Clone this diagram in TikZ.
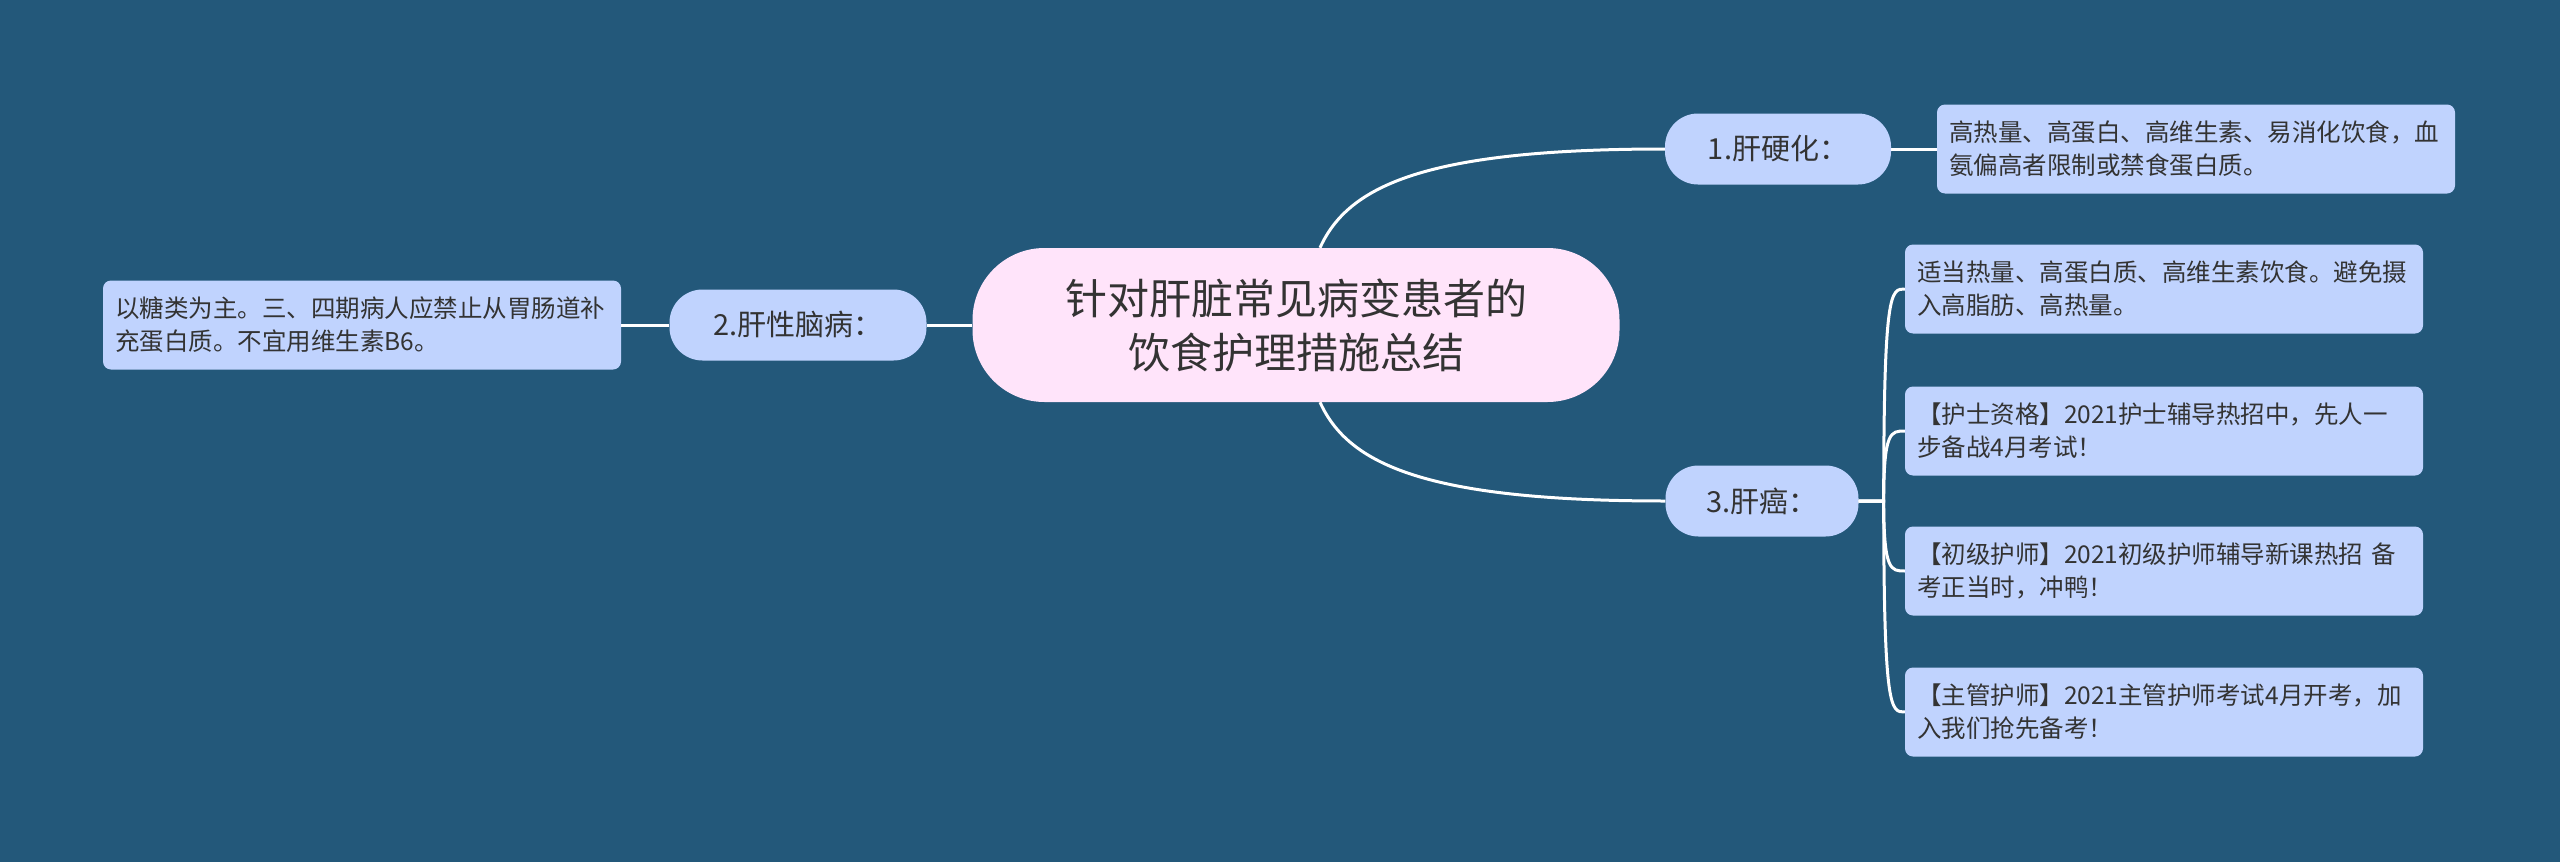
\documentclass[tikz,border=0pt]{standalone}
\usepackage{fontspec}
\setmainfont{Noto Sans CJK SC}
\definecolor{bgblue}{HTML}{23587A}
\definecolor{rootpink}{HTML}{FFE4FA}
\definecolor{nodeblue}{HTML}{C0D3FE}
\definecolor{inkgrey}{HTML}{333333}
\tikzstyle{rootbox} = [fill=rootpink, text=inkgrey, rectangle, rounded corners=72pt,
    minimum width=647pt, minimum height=154pt, align=center, font=\fontsize{42}{54}\selectfont]
\tikzstyle{topicbox} = [fill=nodeblue, text=inkgrey, rectangle, rounded corners=33pt,
    minimum height=71pt, font=\fontsize{29}{34}\selectfont]
\tikzstyle{leafbox} = [fill=nodeblue, text=inkgrey, rectangle, rounded corners=8pt,
    inner xsep=12pt, minimum height=89pt, text width=494pt, align=left,
    font=\fontsize{24.5}{33}\selectfont]
\tikzstyle{link} = [draw=white, line width=3pt]

\begin{document}
\begin{tikzpicture}[x=1pt, y=-1pt]
                \fill[bgblue] (0,0) rectangle (2560,862);
                \node [rootbox] (root) at (1296,325) {针对肝脏常见病变患者的\\饮食护理措施总结};
                \node [topicbox, minimum width=226pt] (liver1) at (1778,149) {1.肝硬化：};
                \node [topicbox, minimum width=257pt] (liver2) at (798,325) {2.肝性脑病：};
                \node [topicbox, minimum width=193pt] (liver3) at (1762,501) {3.肝癌：};
                \node [leafbox] (diet1) at (2196,149) {高热量、高蛋白、高维生素、易消化饮食，血\\氨偏高者限制或禁食蛋白质。};
                \node [leafbox] (diet2) at (362,325) {以糖类为主。三、四期病人应禁止从胃肠道补\\充蛋白质。不宜用维生素B6。};
                \node [leafbox] (diet3) at (2164,289) {适当热量、高蛋白质、高维生素饮食。避免摄\\入高脂肪、高热量。};
                \node [leafbox] (ad1) at (2164,431) {【护士资格】2021护士辅导热招中，先人一\\步备战4月考试！};
                \node [leafbox] (ad2) at (2164,571) {【初级护师】2021初级护师辅导新课热招 备\\考正当时，冲鸭！};
                \node [leafbox] (ad3) at (2164,712) {【主管护师】2021主管护师考试4月开考，加\\入我们抢先备考！};
                % branches
                \draw [link] ([xshift=24pt]root.north) .. controls +(28,-62) and +(-240,0) .. (liver1.west);
                \draw [link] ([xshift=24pt]root.south) .. controls +(28,62) and +(-240,0) .. (liver3.west);
                \draw [link] (root.west) -- (liver2.east);
                \draw [link] (liver2.west) -- (diet2.east);
                \draw [link] (liver1.east) -- (diet1.west);
                \coordinate (trunk) at ([xshift=25pt]liver3.east);
                \draw [link] (liver3.east) -- (trunk) .. controls (trunk |- diet3.west) and ([xshift=-14pt]diet3.west) .. (diet3.west);
                \draw [link] (liver3.east) -- (trunk) .. controls (trunk |- ad1.west) and ([xshift=-14pt]ad1.west) .. (ad1.west);
                \draw [link] (liver3.east) -- (trunk) .. controls (trunk |- ad2.west) and ([xshift=-14pt]ad2.west) .. (ad2.west);
                \draw [link] (liver3.east) -- (trunk) .. controls (trunk |- ad3.west) and ([xshift=-14pt]ad3.west) .. (ad3.west);
            \end{tikzpicture}
\end{document}
